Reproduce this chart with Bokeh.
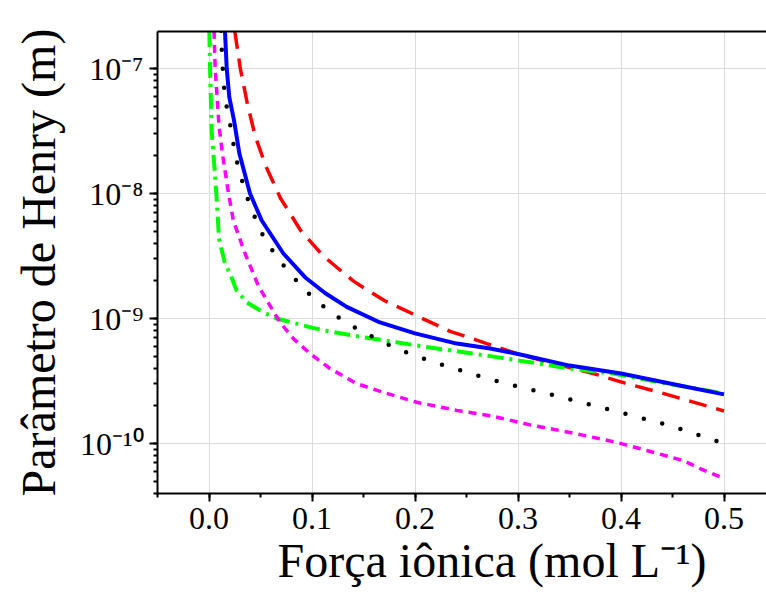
from bokeh.plotting import figure
from bokeh.models import (Range1d, LinearAxis, SingleIntervalTicker, Title,
                          LogTicker, FixedTicker, PrintfTickFormatter,
                          CustomJSTickFormatter)
from bokeh.embed import file_html
from bokeh.resources import INLINE

# ---------------- data ----------------
blue_x = [0.0155, 0.0172, 0.0197, 0.0243, 0.0295, 0.0398, 0.0512, 0.0722, 0.0932,
          0.1126, 0.1337, 0.166, 0.200, 0.2405, 0.273, 0.300, 0.350, 0.400,
          0.457, 0.500]
blue_y = [2.0e-7, 1.0e-7, 5.9e-8, 3.85e-8, 2.09e-8, 1.0e-8, 6.08e-9, 3.31e-9,
          2.14e-9, 1.6e-9, 1.24e-9, 9.3e-10, 7.6e-10, 6.3e-10, 5.75e-10, 5.2e-10,
          4.2e-10, 3.63e-10, 2.91e-10, 2.47e-10]

red_x = [0.025, 0.0304, 0.0372, 0.0447, 0.055, 0.0693, 0.089, 0.111, 0.124, 0.140,
         0.153, 0.171, 0.187, 0.205, 0.218, 0.234, 0.247, 0.2696, 0.300, 0.334,
         0.373, 0.404, 0.4347, 0.465, 0.500]
red_y = [2.0e-7, 1.0e-7, 5.25e-8, 2.91e-8, 1.67e-8, 9.2e-9, 5.06e-9, 3.16e-9, 2.57e-9,
         2.0e-9, 1.7e-9, 1.38e-9, 1.2e-9, 1.02e-9, 9.1e-10, 7.9e-10, 7.3e-10, 6.3e-10,
         5.2e-10, 4.37e-10, 3.63e-10, 3.04e-10, 2.6e-10, 2.21e-10, 1.82e-10]

black_x = [0.0118, 0.0123, 0.0132, 0.0142, 0.0165, 0.0202, 0.0232, 0.0267, 0.0315,
           0.0375, 0.0445, 0.0532, 0.0642, 0.0793, 0.0958, 0.1136, 0.1314, 0.150,
           0.169, 0.193, 0.211, 0.230, 0.248, 0.266, 0.302, 0.338, 0.375, 0.411,
           0.4476, 0.4848, 0.500]
black_y = [2.0e-7, 1.48e-7, 1.06e-7, 7.55e-8, 5.25e-8, 3.72e-8, 2.63e-8, 1.84e-8,
           1.32e-8, 9.1e-9, 6.46e-9, 4.47e-9, 3.24e-9, 2.25e-9, 1.61e-9, 1.2e-9,
           9.46e-10, 7.76e-10, 6.46e-10, 5.31e-10, 4.7e-10, 4.17e-10, 3.77e-10,
           3.39e-10, 2.82e-10, 2.4e-10, 2.0e-10, 1.67e-10, 1.39e-10, 1.1e-10, 1.0e-10]

magenta_x = [0.0049, 0.006, 0.0097, 0.013, 0.018, 0.0236, 0.035, 0.048, 0.0592,
             0.069, 0.0819, 0.098, 0.1175, 0.143, 0.169, 0.2016, 0.2405, 0.273,
             0.3117, 0.3537, 0.3958, 0.425, 0.4605, 0.4767, 0.500]
magenta_y = [2.0e-7, 1.0e-7, 3.5e-8, 2.09e-8, 1.12e-8, 6.08e-9, 3.31e-9, 1.82e-9,
             1.27e-9, 9.3e-10, 6.9e-10, 5.25e-10, 3.98e-10, 3.02e-10, 2.57e-10,
             2.14e-10, 1.84e-10, 1.67e-10, 1.41e-10, 1.21e-10, 1.02e-10, 8.8e-11,
             7.3e-11, 6.3e-11, 5.25e-11]

green_x = [0.0003, 0.001, 0.0026, 0.0058, 0.0075, 0.0097, 0.0155, 0.0204, 0.0269,
           0.0366, 0.0527, 0.0657, 0.077, 0.101, 0.1175, 0.150, 0.182, 0.208, 0.247,
           0.273, 0.3117, 0.350, 0.3926, 0.431, 0.473, 0.500]
green_y = [2.0e-7, 1.0e-7, 3.16e-8, 1.41e-8, 8.9e-9, 4.37e-9, 2.75e-9, 2.29e-9,
           1.67e-9, 1.35e-9, 1.12e-9, 1.0e-9, 9.46e-10, 8.4e-10, 7.87e-10, 7.08e-10,
           6.46e-10, 5.97e-10, 5.37e-10, 5.0e-10, 4.47e-10, 3.98e-10, 3.63e-10,
           3.16e-10, 2.75e-10, 2.51e-10]

y_title = "Parâmetro de Henry (m)"
x_title = "Força iônica (mol L\u207b\u00b9)"

# ---------------- figure ----------------
FONT = "Liberation Serif"
X0, X1 = -0.05, 0.54126
LY0, LY1 = -10.4, -6.704

p = figure(width=766, height=595, y_axis_type="log",
           x_range=Range1d(X0, X1), y_range=Range1d(10 ** LY0, 10 ** LY1),
           output_backend="svg", toolbar_location=None,
           min_border_left=157, min_border_right=0,
           min_border_top=31, min_border_bottom=102)
p.outline_line_color = None
p.background_fill_color = "white"
p.border_fill_color = "white"

def style_axis(ax):
    ax.major_label_text_font = FONT
    ax.major_label_text_font_size = "32px"
    ax.major_label_text_color = "black"
    ax.axis_line_width = 2
    ax.axis_line_color = "black"
    ax.major_tick_out = 8
    ax.major_tick_in = 0
    ax.minor_tick_out = 4
    ax.minor_tick_in = 0
    ax.major_tick_line_width = 2
    ax.minor_tick_line_width = 2
    ax.major_tick_line_color = "black"
    ax.minor_tick_line_color = "black"

xa = p.xaxis[0]
style_axis(xa)
xa.ticker = SingleIntervalTicker(interval=0.1, num_minor_ticks=2)
xa.formatter = PrintfTickFormatter(format="%.1f")
xa.major_label_standoff = 6

ya = p.yaxis[0]
style_axis(ya)
ya.ticker = LogTicker(num_minor_ticks=10)
ya.formatter = CustomJSTickFormatter(code="""
const sup = {'-':'\\u207b','0':'\\u2070','1':'\\u00b9','2':'\\u00b2','3':'\\u00b3',
             '4':'\\u2074','5':'\\u2075','6':'\\u2076','7':'\\u2077','8':'\\u2078','9':'\\u2079'};
const e = Math.round(Math.log10(tick));
return '10' + String(e).split('').map(c => sup[c]).join('');
""")
ya.major_label_standoff = 6
ya.axis_label = y_title
ya.axis_label_text_font = FONT
ya.axis_label_text_font_size = "48px"
ya.axis_label_text_font_style = "normal"
ya.axis_label_text_color = "black"
ya.axis_label_standoff = 12

top = LinearAxis(ticker=FixedTicker(ticks=[]), axis_line_width=2,
                 axis_line_color="black", major_label_text_font_size="0px")
p.add_layout(top, "above")

p.add_layout(Title(text=x_title, align="left", offset=120, standoff=0,
                   text_font=FONT, text_font_size="48px",
                   text_font_style="normal", text_color="black"), "below")

p.xgrid.ticker = xa.ticker
p.xgrid.grid_line_color = "#dcdcdc"
p.xgrid.grid_line_width = 1
p.ygrid.grid_line_color = "#dcdcdc"
p.ygrid.grid_line_width = 1

# ---------------- series ----------------
p.line(red_x, red_y, line_color="#ff0000", line_width=3.5, line_dash="18 10")
p.line(green_x, green_y, line_color="#00ff00", line_width=4, line_dash="16 6 3 6")
p.line(magenta_x, magenta_y, line_color="#ff00ff", line_width=3.5, line_dash="8 6")
p.line(black_x, black_y, line_color="black", line_width=4.5, line_dash="0 19",
       line_cap="round")
p.line(blue_x, blue_y, line_color="#0000ff", line_width=4, line_join="round")

open("out.html", "w").write(file_html(p, INLINE))
